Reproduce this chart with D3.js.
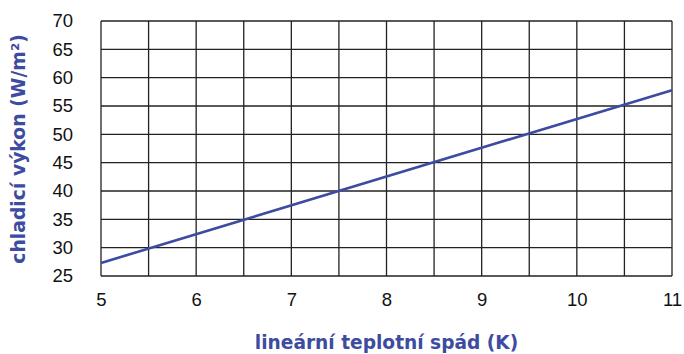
<!DOCTYPE html>
<html>
<head>
<meta charset="utf-8">
<script src="https://cdn.jsdelivr.net/npm/d3@7"></script>
<style>
  html, body { margin: 0; padding: 0; background: #fff; }
  svg { display: block; }
</style>
</head>
<body>
<svg id="chart" width="684" height="354"></svg>
<script>
// Cooling output vs. linear temperature difference
const xTicks = [5, 6, 7, 8, 9, 10, 11];
const yTicks = [25, 30, 35, 40, 45, 50, 55, 60, 65, 70];
const deltaT = [5, 11];          // K
const output = [27.3, 57.8];     // W/m²
const xTitle = "lineární teplotní spád (K)";
const yTitle = "chladicí výkon (W/m²)";

const W = 684, H = 354;
const margin = { left: 101, right: 12, top: 21, bottom: 78 };
const svg = d3.select("#chart");

const x = d3.scaleLinear().domain([5, 11]).range([margin.left, W - margin.right]);
const y = d3.scaleLinear().domain([25, 70]).range([H - margin.bottom, margin.top]);

const blue = "#3d4ba0";
const g = svg.append("g");

// grid: vertical every 0.5 K, horizontal every 5 W/m²
const xGrid = d3.range(5, 11.001, 0.5);
g.selectAll("line.vx").data(xGrid).join("line")
  .attr("x1", d => x(d)).attr("x2", d => x(d))
  .attr("y1", y(25)).attr("y2", y(70))
  .attr("stroke", "#222").attr("stroke-width", 1.3);
g.selectAll("line.hy").data(yTicks).join("line")
  .attr("x1", x(5)).attr("x2", x(11))
  .attr("y1", d => y(d)).attr("y2", d => y(d))
  .attr("stroke", "#222").attr("stroke-width", 1.3);

// axes (labels only)
const xAxis = d3.axisBottom(x).tickValues(xTicks).tickSize(0).tickPadding(17).tickFormat(d3.format("d"));
const yAxis = d3.axisLeft(y).tickValues(yTicks).tickSize(0).tickPadding(28).tickFormat(d3.format("d"));

const gx = svg.append("g").attr("transform", `translate(0,${y(25)})`).call(xAxis);
const gy = svg.append("g").attr("transform", `translate(${x(5)},0)`).call(yAxis);
[gx, gy].forEach(a => {
  a.select(".domain").remove();
  a.selectAll("text")
    .attr("font-family", "Liberation Sans, Arial, sans-serif")
    .attr("font-size", 18.5)
    .attr("fill", "#111");
});

// data line
const pts = deltaT.map((d, i) => [d, output[i]]);
svg.append("path")
  .datum(pts)
  .attr("d", d3.line().x(d => x(d[0])).y(d => y(d[1])))
  .attr("fill", "none")
  .attr("stroke", blue)
  .attr("stroke-width", 2.6);

// axis titles
svg.append("text")
  .attr("x", 386.5).attr("y", 349)
  .attr("text-anchor", "middle")
  .attr("font-family", "DejaVu Sans, sans-serif")
  .attr("font-weight", "bold")
  .attr("font-size", 18.6)
  .attr("fill", blue)
  .text(xTitle);

svg.append("text")
  .attr("transform", "translate(25,149) rotate(-90)")
  .attr("text-anchor", "middle")
  .attr("font-family", "DejaVu Sans, sans-serif")
  .attr("font-weight", "bold")
  .attr("font-size", 18.8)
  .attr("fill", blue)
  .text(yTitle);
</script>
</body>
</html>
